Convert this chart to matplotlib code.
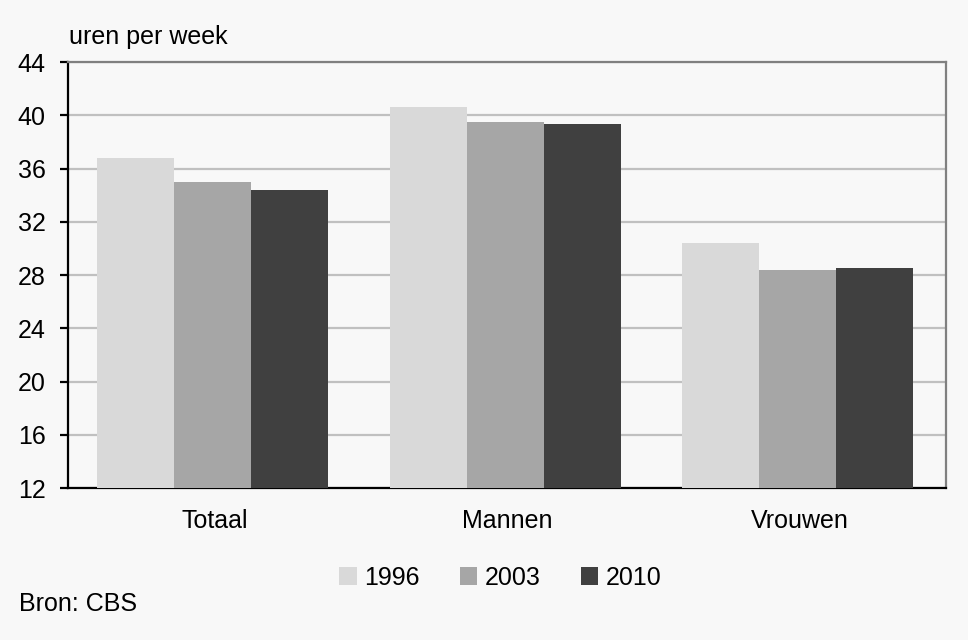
import numpy as np
import matplotlib
matplotlib.use("Agg")
import matplotlib.pyplot as plt

categories = ["Totaal", "Mannen", "Vrouwen"]
years = ["1996", "2003", "2010"]
v1996 = [36.8, 40.6, 30.4]
v2003 = [35.0, 39.5, 28.4]
v2010 = [34.4, 39.35, 28.55]
colors = ["#d9d9d9", "#a6a6a6", "#404040"]

plt.rcParams['font.family'] = ['Liberation Sans', 'DejaVu Sans']
bg = "#f8f8f8"

fig = plt.figure(figsize=(9.68, 6.4), dpi=100, facecolor=bg)
ax = fig.add_axes([0.0702, 0.2375, 0.9071, 0.6656], facecolor=bg)

x = np.arange(len(categories))
w = 0.263
for i, (vals, c, lab) in enumerate(zip([v1996, v2003, v2010], colors, years)):
    ax.bar(x + (i - 1) * w - 0.006, np.array(vals) - 12, width=w, bottom=12,
           color=c, label=lab, zorder=3)

ax.set_xlim(-0.5, 2.5)
ax.set_ylim(12, 44)
ax.set_yticks(np.arange(12, 45, 4))
ax.set_xticks(x)
ax.set_xticklabels(categories)
ax.yaxis.grid(True, color="#c0c0c0", lw=1.6, zorder=0)

ax.spines['left'].set_linewidth(1.6)
ax.spines['bottom'].set_linewidth(1.6)
ax.spines['left'].set_color('black')
ax.spines['bottom'].set_color('black')
ax.spines['top'].set_color('#808080')
ax.spines['right'].set_color('#808080')
ax.spines['top'].set_linewidth(1.6)
ax.spines['right'].set_linewidth(1.6)

ax.tick_params(axis='y', length=6, width=1.6, labelsize=18, pad=10)
ax.tick_params(axis='x', length=0, labelsize=18, pad=15)

fig.text(0.071, 0.942, "uren per week", fontsize=18, va='center', ha='left')
fig.text(0.020, 0.057, "Bron: CBS", fontsize=18, va='center', ha='left')

fig.legend(loc='center', bbox_to_anchor=(0.517, 0.097), ncol=3, frameon=False,
           fontsize=18, handlelength=0.7, handleheight=0.7, handletextpad=0.3,
           columnspacing=1.6)

fig.savefig("out.png", dpi=100, facecolor=bg)
